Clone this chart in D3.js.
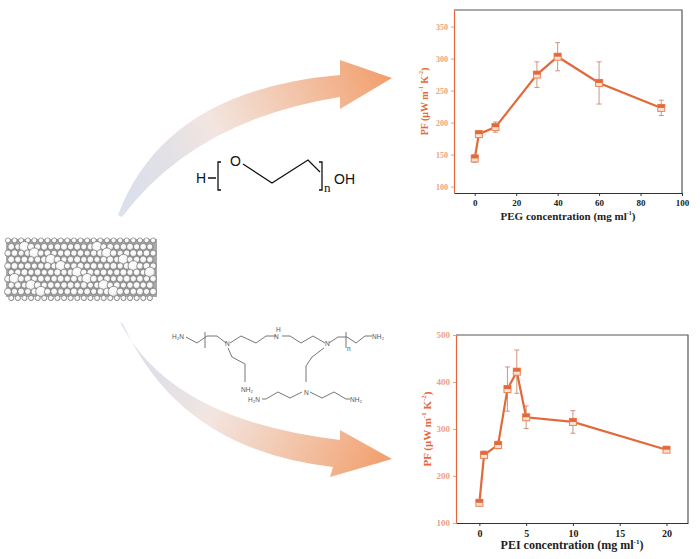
<!DOCTYPE html>
<html lang="en">
<head>
<meta charset="UTF-8">
<title>PF vs PEG / PEI concentration</title>
<script src="https://d3js.org/d3.v7.min.js"></script>
<style>
  body { margin: 0; background: #fff; }
  svg { display: block; }
  .tick text { font-family: "Liberation Serif", "Times New Roman", serif; font-weight: bold; }
</style>
</head>
<body>
<svg id="vis" width="700" height="559"></svg>
<script>
// ---- data ----
const pegConc = [0, 2, 10, 30, 40, 60, 90];
const pegPF = [144, 182, 193, 275, 303, 262, 223];
const pegErr = [6, 5, 8, 20, 22, 33, 12];
const pegXTicks = [0, 20, 40, 60, 80, 100];
const pegYTicks = [100, 150, 200, 250, 300, 350];

const peiConc = [0, 0.5, 2, 3, 4, 5, 10, 20];
const peiPF = [143, 245, 266, 385, 422, 325, 315, 256];
const peiErr = [6, 8, 8, 47, 46, 24, 24, 6];
const peiXTicks = [0, 5, 10, 15, 20];
const peiYTicks = [100, 200, 300, 400, 500];

const ORANGE = "#e3683a";
const LIGHT_ORANGE = "#eda27f";
const ERR = "#c98a70";

const svg = d3.select("#vis");
const defs = svg.append("defs");

// ---- curved arrows ----
function arrowGradient(id, x1, y1, x2, y2) {
    const g = defs.append("linearGradient").attr("id", id)
        .attr("gradientUnits", "userSpaceOnUse")
        .attr("x1", x1).attr("y1", y1).attr("x2", x2).attr("y2", y2);
    g.append("stop").attr("offset", "0%").attr("stop-color", "#b9c3dc").attr("stop-opacity", 0.5);
    g.append("stop").attr("offset", "40%").attr("stop-color", "#f1e3dd").attr("stop-opacity", 0.9);
    g.append("stop").attr("offset", "100%").attr("stop-color", "#f29e6b");
}
arrowGradient("gTop", 120, 215, 392, 78);
arrowGradient("gBot", 120, 322, 392, 459);

svg.append("path")
    .attr("d", "M118,215 Q165,90 340,75 L340,60 L392,78 L340,109 L340,97 Q195,120 122,217 Z")
    .attr("fill", "url(#gTop)");
svg.append("path")
    .attr("d", "M120,322 Q170,420 340,440 L340,430 L392,459 L330,477 L333,467 Q180,450 123,324 Z")
    .attr("fill", "url(#gBot)");

// ---- carbon nanotube sketch (white rings on a grey mesh) ----
const tube = svg.append("g");
const sh = defs.append("radialGradient").attr("id", "hole").attr("cx", "45%").attr("cy", "40%");
sh.append("stop").attr("offset", "0%").attr("stop-color", "#ffffff");
sh.append("stop").attr("offset", "70%").attr("stop-color", "#f6f6f6");
sh.append("stop").attr("offset", "100%").attr("stop-color", "#c4c4c4");
tube.append("rect").attr("x", 6).attr("y", 239).attr("width", 151).attr("height", 58)
    .attr("fill", "#a9a9a9");
d3.range(10).forEach(r => {
    const y = 240.5 + r * 6.4;
    const edge = (r === 0 || r === 9);
    d3.range(24).forEach(c => {
        const x = 8 + c * 6.6 + (r % 2) * 3.3;
        if (x > 156) return;
        const big = !edge && (c * 3 + r * 5) % 11 === 0;
        const rad = edge ? 2.6 : big ? 5.4 : 3.1 + ((c * 7 + r * 3) % 5) * 0.12;
        tube.append("circle")
            .attr("cx", x).attr("cy", y).attr("r", rad)
            .attr("fill", "url(#hole)")
            .attr("stroke", "#6a6a6a").attr("stroke-width", 0.6);
    });
});

// ---- PEG structure ----
const chem = svg.append("g")
    .attr("font-family", "Liberation Sans, Arial, sans-serif")
    .attr("fill", "#111");
chem.append("text").attr("x", 196).attr("y", 183).attr("font-size", 14).text("H");
chem.append("path").attr("d", "M208,178 L216,178 M221,162 L218,162 L218,190 L221,190")
    .attr("stroke", "#111").attr("fill", "none").attr("stroke-width", 1.3);
chem.append("text").attr("x", 230).attr("y", 166).attr("font-size", 14).text("O");
chem.append("path").attr("d", "M243,164 L272,183 L308,160 L320,172 M319,162 L322,162 L322,190 L319,190")
    .attr("stroke", "#111").attr("fill", "none").attr("stroke-width", 1.3);
chem.append("text").attr("x", 324).attr("y", 192).attr("font-size", 13).attr("font-family", "Liberation Serif, serif").text("n");
chem.append("text").attr("x", 334).attr("y", 184).attr("font-size", 14).text("OH");

// ---- PEI structure (small drawn bonds) ----
const pei = svg.append("g").attr("stroke", "#666").attr("fill", "none").attr("stroke-width", 0.9);
const peiBonds = [
    "M186,337 L197,343 L207,336 L217,336 L226,343",
    "M230,343 L241,336 L256,343 L266,336 L276,336",
    "M282,336 L290,336 L301,343 L313,336 L325,343",
    "M329,343 L338,337 L347,337 L356,343 L365,336 L372,336",
    "M205,332 L205,348",
    "M346,332 L346,348",
    "M228,348 L232,357 L245,364 L245,382",
    "M324,348 L312,357 L306,366 L306,382",
    "M302,392 L290,398 L278,392 L266,399 L262,399",
    "M310,392 L322,398 L334,392 L346,399 L350,399"
];
peiBonds.forEach(d => pei.append("path").attr("d", d));
const peiLabels = [
    [172, 339, "H\u2082N"], [225, 346, "N"], [274, 339, "N"], [276, 332, "H"],
    [325, 346, "N"], [372, 339, "NH\u2082"], [347, 351, "n"],
    [241, 392, "NH\u2082"], [304, 395, "N"], [248, 402, "H\u2082N"], [350, 402, "NH\u2082"]
];
svg.append("g").attr("font-family", "Liberation Sans, Arial, sans-serif").attr("font-size", 6.5).attr("fill", "#555")
    .selectAll("text").data(peiLabels).join("text")
    .attr("x", d => d[0]).attr("y", d => d[1]).text(d => d[2]);

// ---- chart panel ----
function panel(opt) {
    const g = svg.append("g");
    const x = d3.scaleLinear().domain(opt.xDomain).range([opt.left, opt.right]);
    const y = d3.scaleLinear().domain(opt.yDomain).range([opt.bottom, opt.top]);

    // frame top / right
    g.append("path")
        .attr("d", `M${opt.left},${opt.top} L${opt.right},${opt.top} L${opt.right},${opt.bottom}`)
        .attr("stroke", "#555").attr("fill", "none").attr("stroke-width", 1.2);

    const xa = g.append("g").attr("transform", `translate(0,${opt.bottom})`)
        .call(d3.axisBottom(x).tickValues(opt.xTicks).tickSize(3).tickSizeOuter(0).tickPadding(4));
    xa.select(".domain").attr("stroke", "#333").attr("stroke-width", 1.2);
    xa.selectAll(".tick line").attr("stroke", "#333");
    xa.selectAll(".tick text").attr("font-size", opt.fs).attr("fill", "#222");

    const ya = g.append("g").attr("transform", `translate(${opt.left},0)`)
        .call(d3.axisLeft(y).tickValues(opt.yTicks).tickSize(3).tickSizeOuter(0).tickPadding(3));
    ya.select(".domain").attr("stroke", ORANGE).attr("stroke-width", 1.2);
    ya.selectAll(".tick line").attr("stroke", LIGHT_ORANGE);
    ya.selectAll(".tick text").attr("font-size", opt.fs - 1).attr("fill", LIGHT_ORANGE);

    // axis titles
    const xt = g.append("text")
        .attr("x", (opt.left + opt.right) / 2).attr("y", opt.xTitleY)
        .attr("text-anchor", "middle")
        .attr("font-family", "Liberation Serif, serif").attr("font-weight", "bold")
        .attr("font-size", opt.fs + 2).attr("fill", "#222");
    xt.append("tspan").text(opt.xLabel + " (mg ml");
    xt.append("tspan").attr("dy", -5).attr("font-size", opt.fs - 3).text("-1");
    xt.append("tspan").attr("dy", 5).text(")");

    const yt = g.append("text")
        .attr("transform", `translate(${opt.yTitleX},${(opt.top + opt.bottom) / 2}) rotate(-90)`)
        .attr("text-anchor", "middle")
        .attr("font-family", "Liberation Serif, serif").attr("font-weight", "bold")
        .attr("font-size", opt.fs + 1).attr("fill", ORANGE);
    yt.append("tspan").text("PF (\u03bcW m");
    yt.append("tspan").attr("dy", -5).attr("font-size", opt.fs - 3).text("-1");
    yt.append("tspan").attr("dy", 5).text(" K");
    yt.append("tspan").attr("dy", -5).attr("font-size", opt.fs - 3).text("-2");
    yt.append("tspan").attr("dy", 5).text(")");

    const pts = opt.xs.map((v, i) => ({ x: v, y: opt.ys[i], e: opt.errs[i] }));

    // error bars
    const eb = g.append("g").attr("stroke", ERR).attr("stroke-width", 0.9);
    eb.selectAll("line.v").data(pts).join("line").attr("class", "v")
        .attr("x1", d => x(d.x)).attr("x2", d => x(d.x))
        .attr("y1", d => y(d.y + d.e)).attr("y2", d => y(d.y - d.e));
    eb.selectAll("line.t").data(pts).join("line").attr("class", "t")
        .attr("x1", d => x(d.x) - 2.5).attr("x2", d => x(d.x) + 2.5)
        .attr("y1", d => y(d.y + d.e)).attr("y2", d => y(d.y + d.e));
    eb.selectAll("line.b").data(pts).join("line").attr("class", "b")
        .attr("x1", d => x(d.x) - 2.5).attr("x2", d => x(d.x) + 2.5)
        .attr("y1", d => y(d.y - d.e)).attr("y2", d => y(d.y - d.e));

    // line
    g.append("path").datum(pts)
        .attr("d", d3.line().x(d => x(d.x)).y(d => y(d.y)))
        .attr("fill", "none").attr("stroke", ORANGE).attr("stroke-width", 2.2);

    // markers: pale square with orange upper half
    const m = 7;
    g.selectAll("rect.mk").data(pts).join("rect").attr("class", "mk")
        .attr("x", d => x(d.x) - m / 2).attr("y", d => y(d.y) - m / 2)
        .attr("width", m).attr("height", m)
        .attr("fill", "#fbe1d3").attr("stroke", "#ea8456").attr("stroke-width", 1);
    g.selectAll("rect.mt").data(pts).join("rect").attr("class", "mt")
        .attr("x", d => x(d.x) - m / 2).attr("y", d => y(d.y) - m / 2)
        .attr("width", m).attr("height", m / 2)
        .attr("fill", ORANGE);
}

panel({
    xs: pegConc, ys: pegPF, errs: pegErr,
    xDomain: [-10, 100], yDomain: [90, 376],
    xTicks: pegXTicks, yTicks: pegYTicks,
    left: 454, right: 682, top: 10, bottom: 193,
    fs: 9, xLabel: "PEG concentration", xTitleY: 220, yTitleX: 428
});

panel({
    xs: peiConc, ys: peiPF, errs: peiErr,
    xDomain: [-2.5, 22.3], yDomain: [100, 500],
    xTicks: peiXTicks, yTicks: peiYTicks,
    left: 456, right: 688, top: 335, bottom: 523,
    fs: 10, xLabel: "PEI concentration", xTitleY: 549, yTitleX: 431
});
</script>
</body>
</html>
